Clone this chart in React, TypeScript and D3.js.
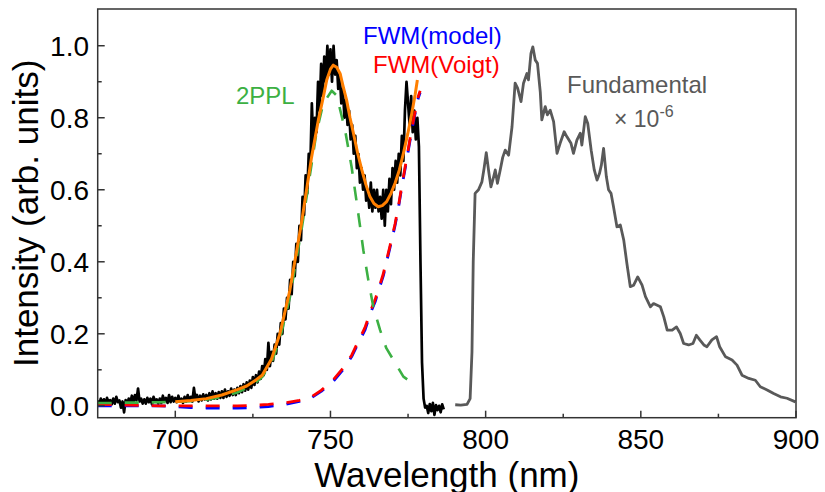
import React, { useRef, useEffect } from "react";
import * as d3 from "d3";

// axis ticks
const xMajorTicks = [700, 750, 800, 850, 900];
const xMinorTicks = [725, 775, 825, 875];
const yMajorTicks = [0, 0.2, 0.4, 0.6, 0.8, 1.0];
const yMinorTicks = [0.1, 0.3, 0.5, 0.7, 0.9];

// measured spectrum (black), one value every 0.5 nm from 675 nm
const measuredStart = 675;
const measuredStep = 0.5;
const measuredIntensity = [
  0.015, 0.005, 0.02, 0.008, 0.018, 0.003, 0.022, 0.01, 0.016, 0.004,
  0.02, 0.006, 0.025, 0.01, 0.015, -0.005, 0.012, -0.018, 0.016, 0.004,
  0.02, 0.008, 0.028, 0.01, 0.03, 0.015, 0.048, 0.012, 0.02, 0.006,
  0.018, 0.006, 0.022, 0.01, 0.02, 0.004, 0.025, 0.012, 0.018, 0.006,
  0.02, 0.008, 0.028, 0.012, 0.022, 0.008, 0.03, 0.01, 0.025, 0.012,
  0.022, 0.01, 0.028, 0.012, 0.02, 0.008, 0.025, 0.012, 0.03, 0.015,
  0.025, 0.012, 0.05, 0.018, 0.03, 0.012, 0.028, 0.015, 0.032, 0.018,
  0.03, 0.015, 0.035, 0.018, 0.04, 0.02, 0.035, 0.02, 0.038, 0.022,
  0.04, 0.022, 0.045, 0.025, 0.04, 0.028, 0.048, 0.03, 0.045, 0.03,
  0.05, 0.035, 0.055, 0.038, 0.06, 0.042, 0.065, 0.045, 0.07, 0.05,
  0.08, 0.058, 0.085, 0.065, 0.095, 0.075, 0.11, 0.085, 0.13, 0.1,
  0.175, 0.11, 0.15, 0.125, 0.17, 0.145, 0.2, 0.17, 0.23, 0.2,
  0.27, 0.24, 0.3, 0.27, 0.35, 0.31, 0.4, 0.36, 0.45, 0.4,
  0.5, 0.46, 0.58, 0.53, 0.64, 0.59, 0.7, 0.66, 0.84, 0.72,
  0.8, 0.76, 0.9, 0.82, 0.95, 0.86, 0.97, 0.9, 1.0, 0.92,
  0.99, 0.9, 1.0, 0.92, 0.96, 0.88, 0.92, 0.84, 0.88, 0.8,
  0.85, 0.78, 0.82, 0.74, 0.78, 0.7, 0.75, 0.66, 0.7, 0.62,
  0.66, 0.6, 0.64, 0.57, 0.6, 0.55, 0.62, 0.54, 0.6, 0.55,
  0.6, 0.54, 0.58, 0.52, 0.6, 0.5, 0.6, 0.54, 0.63, 0.56,
  0.66, 0.6, 0.68, 0.62, 0.7, 0.64, 0.75, 0.68, 0.82, 0.9,
  0.84, 0.78, 0.86, 0.76, 0.82, 0.74, 0.8, 0.72, 0.4, 0.12,
  0.02, -0.005, 0.0, -0.02, 0.005, -0.015, 0.008, -0.025, 0.002, -0.012,
  0.0, -0.018, 0.004, -0.01,
];

// 2PPL component (green dashed)
const pplWavelength = [
  675, 680, 685, 690, 695, 700, 705, 710, 715, 720, 725, 728, 731, 733.7,
  736.9, 739.1, 740.7, 742.3, 743.9, 745.5, 747.7, 750.4, 752, 754.7, 756.8,
  758.7, 760.6, 762.2, 763.8, 766, 768, 770.3, 773.5, 777.3,
];
const pplIntensity = [
  0.008, 0.008, 0.009, 0.009, 0.01, 0.011, 0.013, 0.017, 0.024, 0.037, 0.058,
  0.08, 0.12, 0.185, 0.3, 0.41, 0.49, 0.58, 0.67, 0.76, 0.84, 0.875, 0.862,
  0.766, 0.664, 0.55, 0.432, 0.349, 0.275, 0.21, 0.16, 0.127, 0.081, 0.058,
];

// FWM components (blue = model, red = Voigt)
const fwmWavelength = [
  675, 680, 685, 690, 695, 700, 705, 710, 715, 720, 725, 730, 735, 740, 743.4,
  747, 750.9, 754, 756.8, 759, 761.1, 763, 764.4, 765.5, 767, 769.2, 770.8,
  772, 773, 774.3, 775.6, 777, 778.3, 778.9,
];
const fwmModel = [
  0.0, 0.0, 0.0, 0.0, 0.0, -0.002, -0.005, -0.006, -0.006, -0.006, -0.005,
  -0.002, 0.003, 0.012, 0.02, 0.04, 0.068, 0.1, 0.136, 0.175, 0.21, 0.26,
  0.289, 0.32, 0.36, 0.44, 0.5, 0.555, 0.608, 0.67, 0.735, 0.8, 0.855, 0.87,
];
const fwmVoigt = [
  0.004, 0.003, 0.002, 0.001, 0.0, 0.0, 0.0, 0.0, 0.0, 0.0, 0.001, 0.004,
  0.008, 0.015, 0.022, 0.043, 0.072, 0.104, 0.14, 0.18, 0.217, 0.265, 0.295,
  0.325, 0.366, 0.445, 0.505, 0.56, 0.612, 0.675, 0.74, 0.805, 0.86, 0.875,
];

// total fit (orange)
const fitWavelength = [
  700, 705, 710, 715, 720, 723, 726, 728, 731, 733.7, 736.9, 739.1, 740.7,
  742.3, 743.9, 746.1, 747.7, 748.8, 750, 750.9, 752, 753.1, 754, 755.2,
  756.3, 757.4, 758.8, 760.1, 761.4, 762.7, 764, 765.4, 766.7, 768.1, 769.5,
  770.8, 772.2, 773.5, 774.9, 776.2, 777.3, 778,
];
const fitIntensity = [
  0.011, 0.015, 0.02, 0.03, 0.045, 0.055, 0.072, 0.085, 0.13, 0.2, 0.32, 0.43,
  0.51, 0.6, 0.69, 0.794, 0.858, 0.905, 0.935, 0.946, 0.94, 0.923, 0.89, 0.849,
  0.8, 0.757, 0.7, 0.655, 0.615, 0.581, 0.562, 0.553, 0.556, 0.567, 0.59,
  0.618, 0.655, 0.701, 0.755, 0.812, 0.865, 0.905,
];

// fundamental spectrum (gray, x 1e-6)
const fundWavelength = [
  790.2, 792, 794, 795, 795.6, 796, 796.6, 797.7, 798.8, 799.5, 800.2, 801,
  801.7, 802.4, 803.1, 803.8, 804.7, 805.5, 806.3, 807.4, 808.5, 809.5, 810.3,
  811.4, 812.2, 813.3, 813.8, 814.6, 815.2, 816, 816.7, 817.6, 818.1, 819.2,
  819.9, 820.8, 821.9, 823, 824, 825.3, 826.2, 827.5, 828.3, 829.4, 830.5,
  831, 832.1, 832.9, 834, 835, 835.9, 836.7, 837.3, 838, 838.9, 839.6, 840.4,
  841.2, 842.3, 843.4, 844.5, 845.5, 846.6, 847.7, 849, 850.4, 851.5, 853.1,
  854.1, 856.3, 857.4, 858.5, 860.1, 861.5, 862.7, 863.8, 865.4, 866.8, 867.9,
  869, 870.3, 871.3, 872.9, 874.4, 875.4, 877.3, 879.4, 881, 882.6, 884.8,
  886.9, 888.5, 890.7, 892.8, 895, 897.1, 899.8,
];
const fundIntensity = [
  0.003, 0.002, 0.004, 0.02, 0.15, 0.4, 0.59, 0.6, 0.622, 0.66, 0.703, 0.65,
  0.608, 0.63, 0.655, 0.618, 0.655, 0.69, 0.71, 0.696, 0.775, 0.896, 0.882,
  0.845, 0.896, 0.923, 0.905, 0.979, 0.997, 0.96, 0.951, 0.872, 0.794, 0.831,
  0.808, 0.821, 0.789, 0.701, 0.729, 0.761, 0.747, 0.729, 0.701, 0.738, 0.757,
  0.724, 0.803, 0.784, 0.71, 0.655, 0.627, 0.646, 0.669, 0.715, 0.636, 0.6,
  0.59, 0.553, 0.497, 0.502, 0.46, 0.396, 0.331, 0.335, 0.358, 0.335, 0.303,
  0.275, 0.284, 0.275, 0.247, 0.21, 0.21, 0.219, 0.201, 0.173, 0.169, 0.173,
  0.196, 0.183, 0.169, 0.164, 0.183, 0.192, 0.164, 0.136, 0.127, 0.113, 0.085,
  0.076, 0.071, 0.053, 0.044, 0.034, 0.025, 0.021, 0.011,
];

const FONT = "Arial, 'Liberation Sans', sans-serif";

const App = () => {
  const ref = useRef<SVGSVGElement>(null);

  useEffect(() => {
    const width = 825;
    const height = 492;
    const left = 97.7;
    const right = 796;
    const top = 9;
    const bottom = 417.7;

    const svg = d3.select(ref.current);
    svg.selectAll("*").remove();
    svg.attr("width", width).attr("height", height);

    const x = d3.scaleLinear().domain([675, 900]).range([left, right]);
    const y = d3.scaleLinear().domain([-0.033, 1.102]).range([bottom, top]);

    svg
      .append("defs")
      .append("clipPath")
      .attr("id", "plot-clip")
      .append("rect")
      .attr("x", left)
      .attr("y", top)
      .attr("width", right - left)
      .attr("height", bottom - top);

    const line = d3
      .line<[number, number]>()
      .x((d) => x(d[0]))
      .y((d) => y(d[1]));

    const zip = (xs: number[], ys: number[]) =>
      xs.map((w, i) => [w, ys[i]] as [number, number]);

    const measured: [number, number][] = measuredIntensity.map((v, i) => [
      measuredStart + i * measuredStep,
      v,
    ]);

    const plot = svg.append("g").attr("clip-path", "url(#plot-clip)");

    const series = [
      { data: measured, color: "#000", width: 2.7, dash: null },
      { data: zip(fundWavelength, fundIntensity), color: "#595959", width: 2.8, dash: null },
      { data: zip(fwmWavelength, fwmModel), color: "#0000ff", width: 2.8, dash: "14 13" },
      { data: zip(fwmWavelength, fwmVoigt), color: "#ff0000", width: 2.8, dash: "14 13" },
      { data: zip(pplWavelength, pplIntensity), color: "#3cb043", width: 2.6, dash: "14 13" },
      { data: zip(fitWavelength, fitIntensity), color: "#ff7f00", width: 3, dash: null },
    ];

    series.forEach((s) => {
      plot
        .append("path")
        .attr("d", line(s.data))
        .attr("fill", "none")
        .attr("stroke", s.color)
        .attr("stroke-width", s.width)
        .attr("stroke-linejoin", "round")
        .attr("stroke-dasharray", s.dash);
    });

    // frame
    svg
      .append("rect")
      .attr("x", left)
      .attr("y", top)
      .attr("width", right - left)
      .attr("height", bottom - top)
      .attr("fill", "none")
      .attr("stroke", "#333")
      .attr("stroke-width", 1.5);

    const axes = svg.append("g").attr("stroke", "#333").attr("stroke-width", 1.5);
    xMajorTicks.forEach((t) => {
      axes.append("line").attr("x1", x(t)).attr("x2", x(t)).attr("y1", bottom).attr("y2", bottom - 7);
    });
    xMinorTicks.forEach((t) => {
      axes.append("line").attr("x1", x(t)).attr("x2", x(t)).attr("y1", bottom).attr("y2", bottom - 4);
    });
    yMajorTicks.forEach((t) => {
      axes.append("line").attr("x1", left).attr("x2", left + 7).attr("y1", y(t)).attr("y2", y(t));
    });
    yMinorTicks.forEach((t) => {
      axes.append("line").attr("x1", left).attr("x2", left + 4).attr("y1", y(t)).attr("y2", y(t));
    });

    const fmt = d3.format(".1f");
    svg
      .append("g")
      .selectAll("text")
      .data(xMajorTicks)
      .enter()
      .append("text")
      .attr("x", (d) => x(d))
      .attr("y", 449)
      .attr("text-anchor", "middle")
      .style("font-family", FONT)
      .style("font-size", "28px")
      .text((d) => d);

    svg
      .append("g")
      .selectAll("text")
      .data(yMajorTicks)
      .enter()
      .append("text")
      .attr("x", 89)
      .attr("y", (d) => y(d) + 10.5)
      .attr("text-anchor", "end")
      .style("font-family", FONT)
      .style("font-size", "28px")
      .text((d) => fmt(d));

    // the reference crops the descender of this title at the bottom edge
    svg
      .append("text")
      .attr("x", (left + right) / 2)
      .attr("y", 487)
      .attr("text-anchor", "middle")
      .style("font-family", FONT)
      .style("font-size", "35px")
      .text("Wavelength (nm)");

    svg
      .append("text")
      .attr("transform", `translate(38, ${(top + bottom) / 2}) rotate(-90)`)
      .attr("text-anchor", "middle")
      .style("font-family", FONT)
      .style("font-size", "35px")
      .text("Intensity (arb. units)");

    const label = (tx: number, ty: number, text: string, color: string) =>
      svg
        .append("text")
        .attr("x", tx)
        .attr("y", ty)
        .attr("fill", color)
        .style("font-family", FONT)
        .style("font-size", "24px")
        .text(text);

    label(236, 104, "2PPL", "#3cb043");
    label(363, 44, "FWM(model)", "#0000ff");
    label(373, 73, "FWM(Voigt)", "#ff0000");
    label(567, 93, "Fundamental", "#595959");

    const scaleText = svg
      .append("text")
      .attr("x", 614)
      .attr("y", 126.5)
      .attr("fill", "#595959")
      .style("font-family", FONT)
      .style("font-size", "23px");
    scaleText.append("tspan").text("\u00d7 10");
    scaleText
      .append("tspan")
      .attr("dy", -10)
      .style("font-size", "16px")
      .text("-6");
  }, []);

  return (
    <div style={{ position: "absolute", left: 0, top: 0 }}>
      <svg ref={ref}></svg>
    </div>
  );
};

export default App;
